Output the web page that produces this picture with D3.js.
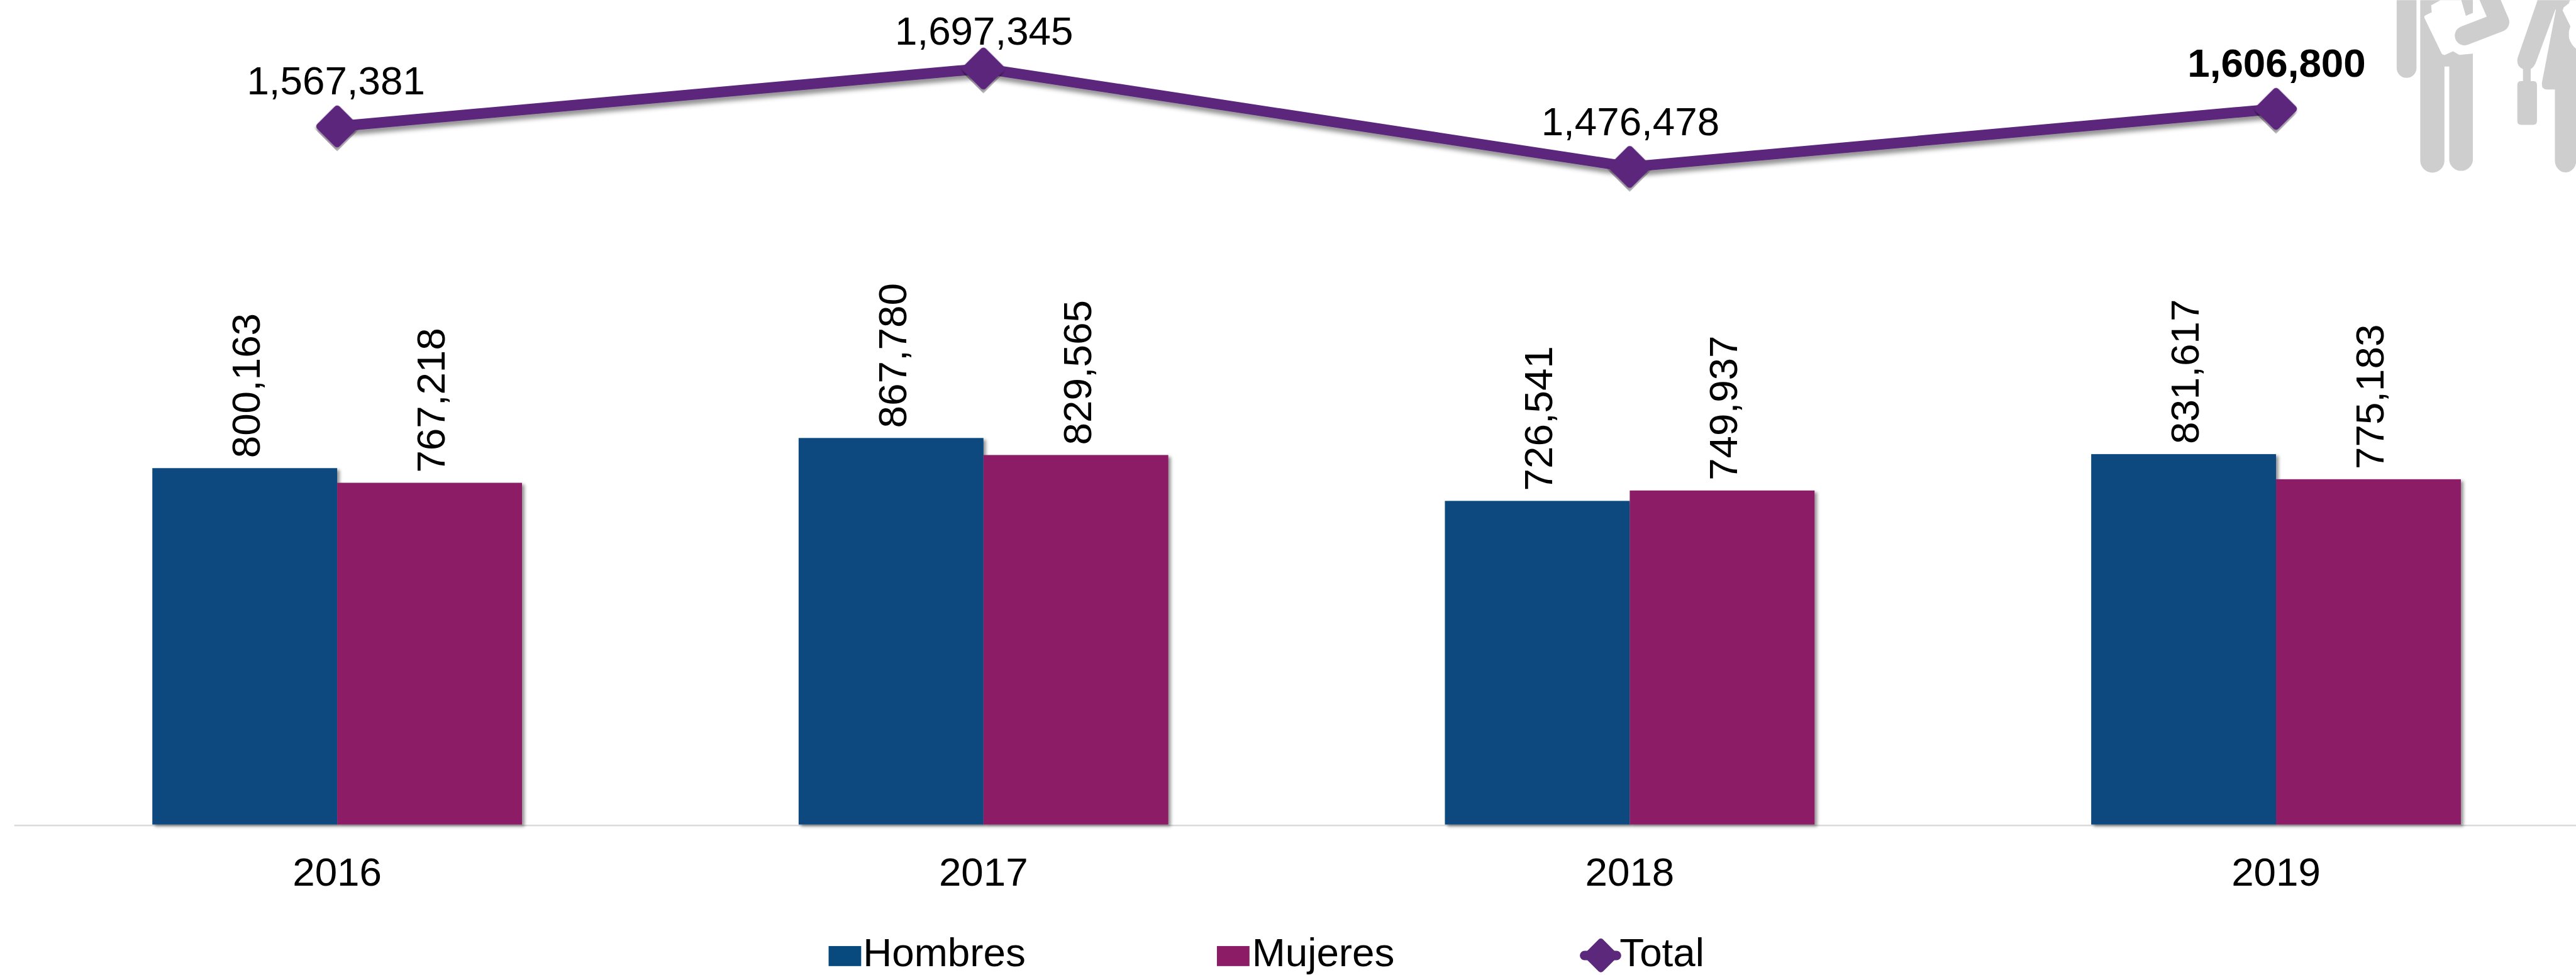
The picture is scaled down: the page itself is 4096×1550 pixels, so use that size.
<!DOCTYPE html>
<html>
<head>
<meta charset="utf-8">
<script src="https://cdn.jsdelivr.net/npm/d3@7"></script>
<style>
html,body{margin:0;padding:0;background:#fff;overflow:hidden}
svg{display:block}
text{font-family:"Liberation Sans",Arial,sans-serif;fill:#000}
</style>
</head>
<body>
<div id="chart"></div>
<script>
const years = ["2016","2017","2018","2019"];
const hombres = [800163,867780,726541,831617];
const mujeres = [767218,829565,749937,775183];
const total = [1567381,1697345,1476478,1606800];
const legendNames = ["Hombres","Mujeres","Total"];
const colorHombres = "#094A7E", colorMujeres = "#8B1C65", colorTotal = "#5B287C", iconGrey = "#CECECE";

const W = 4113, H = 1556, fontSize = 64;
const svg = d3.select("#chart").append("svg")
  .attr("width",4096).attr("height",1550)
  .attr("viewBox",`0 0 ${W} ${H}`);

const defs = svg.append("defs");
function shadow(id,dx,dy,sd,op){
  const f = defs.append("filter").attr("id",id)
    .attr("x","-20%").attr("y","-20%").attr("width","140%").attr("height","140%");
  f.append("feDropShadow").attr("dx",dx).attr("dy",dy).attr("stdDeviation",sd)
    .attr("flood-color","#000").attr("flood-opacity",op);
}
shadow("barShadow",4,3,2.5,0.42);
shadow("markShadow",4,6,3,0.42);
defs.append("filter").attr("id","lineShadow").attr("filterUnits","userSpaceOnUse")
  .attr("x",0).attr("y",0).attr("width",W).attr("height",H)
  .append("feDropShadow").attr("dx",2).attr("dy",7).attr("stdDeviation",3.5)
  .attr("flood-color","#000").attr("flood-opacity",0.42);

/* scales */
const x0 = d3.scaleBand().domain(years).range([22.4,4150]).paddingInner(0.428).paddingOuter(0.214);
const x1 = d3.scaleBand().domain(["h","m"]).range([0,x0.bandwidth()]);
const y = d3.scaleLinear().domain([0,1850914]).range([1316,0]);
const cx = d => x0(d)+x0.bandwidth()/2;

/* person icon, cropped by the top and right of the picture */
const icon = svg.append("g").attr("transform","translate(3700,0) scale(0.33333)");
icon.append("path").attr("fill",iconGrey).attr("d",[
  "M380,0H475V325A47.5,47.5 0 0 1 380,325Z",
  "M493,0H745V768A57,57 0 0 1 632,768V318H609V768A58,58 0 0 1 493,768Z",
  "M1055,0H1260V1000H1240V768A51,57 0 0 1 1138,768V428H1100Q1072,428 1076,395L1143,45L1140,45L1050,290Q1040,320 1022,330V388H1034Q1052,388 1052,406V579Q1052,597 1034,597H976Q958,597 958,579V406Q958,388 976,388H985V330Q950,315 960,275Z"
].join(""));
icon.append("path").attr("fill","#fff")
  .attr("d","M513,85Q510,75 520,72L548,58L545,25L590,0H690L712,75L745,60V0H800L830,100L760,255L680,262L650,245L610,263Q598,262 595,255Z");
icon.append("path").attr("fill",iconGrey)
  .attr("d","M690,0H745V60L712,75Z");
icon.append("path").attr("fill","none").attr("stroke",iconGrey).attr("stroke-width",93)
  .attr("stroke-linejoin","round").attr("stroke-linecap","round")
  .attr("d","M815,-30L873,105L705,170");
icon.append("path").attr("fill","#fff")
  .attr("d","M1210,0L1205,15L1180,35L1175,50L1212,125L1205,150L1205,180Q1215,215 1245,238V0Z");

/* axis */
const axis = svg.append("g").attr("transform",`translate(0,${y(0)+1})`)
  .call(d3.axisBottom(x0).tickSize(0).tickPadding(0));
axis.select(".domain").attr("stroke","#DADADA").attr("stroke-width",2.6);
axis.selectAll(".tick text").attr("y",0).attr("dy",0)
  .attr("transform","translate(0,97)")
  .attr("font-size",fontSize)
  .style("font-family",'"Liberation Sans",Arial,sans-serif').attr("fill","#000");

/* bars */
const groups = [
  {key:"h",values:hombres,color:colorHombres},
  {key:"m",values:mujeres,color:colorMujeres}
];
groups.forEach(g=>{
  const bx = d => x0(d)+x1(g.key);
  const val = (d,i) => g.values[i];
  svg.append("g").selectAll("rect").data(years).join("rect")
    .attr("x",bx).attr("width",x1.bandwidth())
    .attr("y",(d,i)=>y(val(d,i))).attr("height",(d,i)=>y(0)-y(val(d,i)))
    .attr("fill",g.color).attr("filter","url(#barShadow)");
});
groups.forEach(g=>{
  svg.append("g").selectAll("text").data(years).join("text")
    .attr("transform",(d,i)=>`translate(${x0(d)+x1(g.key)+x1.bandwidth()/2+24},${y(g.values[i])-16}) rotate(-90)`)
    .attr("font-size",fontSize)
    .text((d,i)=>d3.format(",")(g.values[i]));
});

/* total line */
const line = d3.line().x((d,i)=>cx(years[i])).y(d=>y(d));
svg.append("path").datum(total).attr("d",line).attr("fill","none")
  .attr("stroke",colorTotal).attr("stroke-width",17).attr("filter","url(#lineShadow)");
const markerPath = d3.symbol(d3.symbolSquare,2*28*28)();
svg.append("g").selectAll("path").data(total).join("path")
  .attr("d",markerPath)
  .attr("transform",(d,i)=>`translate(${cx(years[i])},${y(d)}) rotate(45)`)
  .attr("fill",colorTotal).attr("stroke",colorTotal).attr("stroke-width",11)
  .attr("stroke-linejoin","round").attr("filter","url(#markShadow)");
svg.append("g").selectAll("text").data(total).join("text")
  .attr("x",(d,i)=>cx(years[i])+(i===0?-2:1))
  .attr("y",d=>Math.max(y(d)-51,70.7))
  .attr("text-anchor","middle").attr("font-size",fontSize)
  .attr("font-weight",(d,i)=>i===total.length-1?"bold":"normal")
  .text(d=>d3.format(",")(d));

/* legend */
const legend = svg.append("g");
const legendBase = 1542;
[[1323,colorHombres,1378],[1943,colorMujeres,1999]].forEach((l,i)=>{
  legend.append("rect").attr("x",l[0]).attr("y",1510).attr("width",52).attr("height",32).attr("fill",l[1]);
  legend.append("text").attr("x",l[2]).attr("y",legendBase).attr("font-size",fontSize).text(legendNames[i]);
});
legend.append("line").attr("x1",2530).attr("x2",2581).attr("y1",1525).attr("y2",1525)
  .attr("stroke",colorTotal).attr("stroke-width",15).attr("stroke-linecap","round");
legend.append("path").attr("d",d3.symbol(d3.symbolSquare,2*22*22)())
  .attr("transform","translate(2556,1525) rotate(45)")
  .attr("fill",colorTotal).attr("stroke",colorTotal).attr("stroke-width",10).attr("stroke-linejoin","round");
legend.append("text").attr("x",2586).attr("y",legendBase).attr("font-size",fontSize).text(legendNames[2]);
</script>
</body>
</html>
